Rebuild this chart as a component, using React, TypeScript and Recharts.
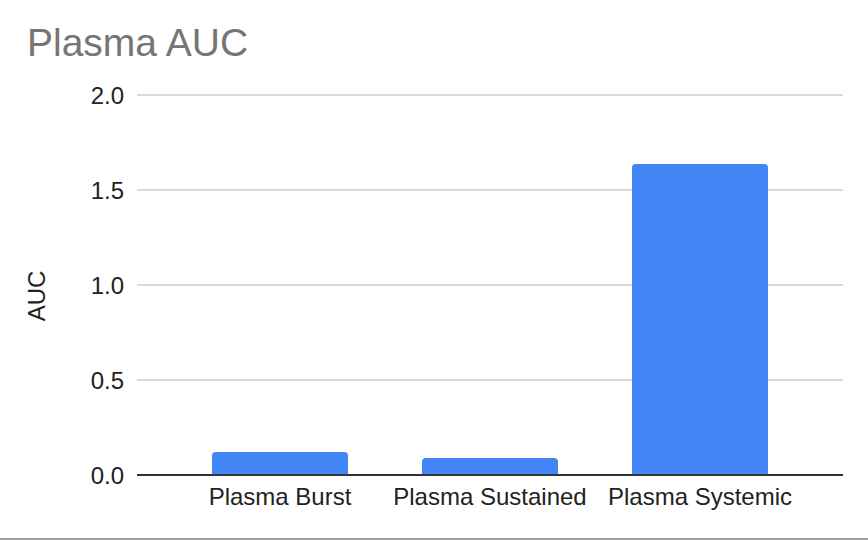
import React from 'react';
import { BarChart, Bar, XAxis, YAxis, CartesianGrid } from 'recharts';

const categories = ['Plasma Burst', 'Plasma Sustained', 'Plasma Systemic'];
const aucValues = [0.121, 0.089, 1.637];
const yTicks = [0, 0.5, 1, 1.5, 2];

const data = categories.map((name, i) => ({ name, auc: aucValues[i] }));

const FONT = "Arial, 'Liberation Sans', sans-serif";

const AxisTitle = ({ viewBox }: any) => {
  const x = viewBox.x + 36;
  const y = viewBox.y + viewBox.height / 2 + 11;
  return (
    <text
      x={x}
      y={y}
      transform={`rotate(-90, ${x}, ${y})`}
      textAnchor="middle"
      dominantBaseline="central"
      fontSize={24}
      fontFamily={FONT}
      fill="#222"
    >
      AUC
    </text>
  );
};

export default function App() {
  return (
    <div style={{ position: 'absolute', left: 0, top: 0, width: 868, height: 540, background: '#fff', fontFamily: FONT }}>
      <div style={{ position: 'absolute', left: 27, top: 23, fontSize: 39, lineHeight: 1, color: '#757575' }}>
        Plasma AUC
      </div>
      <BarChart
        width={868}
        height={538}
        data={data}
        margin={{ top: 95, right: 25, left: 0, bottom: 0 }}
        barSize={136}
      >
        <CartesianGrid vertical={false} stroke="#cccccc" strokeWidth={1.5} />
        <XAxis
          dataKey="name"
          height={63}
          padding={{ left: 38, right: 38 }}
          tickLine={false}
          tickMargin={7}
          axisLine={{ stroke: '#333', strokeWidth: 2 }}
          tick={{ fontSize: 24, fill: '#222', fontFamily: FONT }}
        />
        <YAxis
          width={137}
          domain={[0, 2]}
          ticks={yTicks}
          tickFormatter={(v: number) => v.toFixed(1)}
          axisLine={false}
          tickLine={false}
          tickMargin={7}
          tick={{ fontSize: 24, fill: '#222', fontFamily: FONT }}
          label={{ content: AxisTitle }}
        />
        <Bar dataKey="auc" fill="#4285F4" radius={[4, 4, 0, 0]} isAnimationActive={false} />
      </BarChart>
      <div style={{ position: 'absolute', left: 0, top: 538, width: 868, height: 2, background: '#9e9e9e' }} />
    </div>
  );
}
